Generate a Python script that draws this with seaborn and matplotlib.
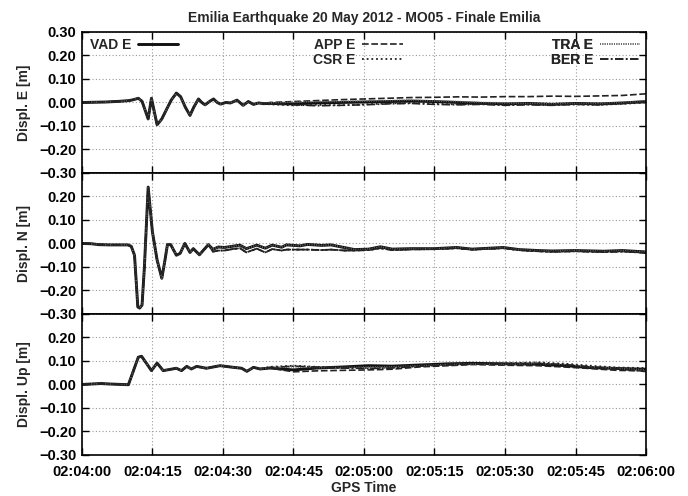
import matplotlib
matplotlib.use("Agg")
import matplotlib.pyplot as plt
import seaborn as sns

# seconds after 02:04:00
TIME_TICKS = [0, 15, 30, 45, 60, 75, 90, 105, 120]
TIME_LABELS = ["02:04:00", "02:04:15", "02:04:30", "02:04:45", "02:05:00",
               "02:05:15", "02:05:30", "02:05:45", "02:06:00"]
STATIONS = ["VAD", "APP", "CSR", "TRA", "BER"]

# --- East: shaking part (all stations on top of each other)
E_SHAKE_T = [0, 5, 8, 10, 11, 12.0, 12.8, 14.1, 14.8, 16.0, 17, 18, 19, 20.1, 21,
             22, 23.0, 23.8, 24.8, 25.5, 26.2, 27.2, 28.0, 28.8, 29.5, 30.6, 31.6,
             33.0, 34.3, 35.4, 36.5, 37.6, 38.6]
E_SHAKE = [0.0, 0.002, 0.005, 0.008, 0.012, 0.018, 0.005, -0.07, 0.018, -0.095, -0.07,
           -0.03, 0.01, 0.04, 0.025, -0.02, -0.055, -0.02, 0.015, 0.0, -0.01, 0.005,
           0.015, 0.0, -0.007, 0.0, -0.002, 0.01, -0.012, 0.004, -0.008, -0.002, -0.005]
E_TAIL_T = [40, 45, 50, 55, 60, 65, 70, 75, 80, 85, 90, 95, 100, 105, 110, 115, 120]
E_TAIL = {
    "VAD": [-0.004, -0.006, -0.002, 0.0, 0.002, 0.004, 0.006, 0.004, 0.0, -0.004,
            -0.006, -0.004, -0.008, -0.004, -0.006, -0.002, 0.004],
    "APP": [0.0, 0.004, 0.008, 0.012, 0.015, 0.018, 0.021, 0.022, 0.024, 0.023,
            0.025, 0.025, 0.027, 0.026, 0.028, 0.03, 0.037],
    "CSR": [-0.008, -0.012, -0.01, -0.012, -0.008, -0.004, -0.002, -0.006, -0.008,
            -0.006, -0.01, -0.008, -0.01, -0.008, -0.01, -0.006, 0.0],
    "TRA": [-0.002, 0.002, 0.004, 0.004, 0.006, 0.008, 0.01, 0.006, 0.004, 0.0,
            -0.002, -0.004, -0.006, -0.004, -0.004, 0.0, 0.006],
    "BER": [-0.006, -0.01, -0.014, -0.012, -0.01, -0.006, -0.004, -0.008, -0.01,
            -0.008, -0.012, -0.01, -0.012, -0.008, -0.01, -0.004, 0.002],
}

# --- North
N_SHAKE_T = [0, 2, 3.6, 6, 9.8, 10.5, 11.2, 11.9, 12.3, 12.8, 13.3, 14.1, 15.0, 16.0,
             17.0, 17.6, 18.2, 18.9, 20.1, 20.9, 21.9, 23.0, 23.7, 25.0, 26.9]
N_SHAKE = [0.0, -0.001, -0.005, -0.006, -0.006, -0.012, -0.05, -0.27, -0.275, -0.262,
           -0.1, 0.24, 0.05, -0.07, -0.148, -0.08, -0.005, -0.005, -0.05, -0.042, 0.0,
           -0.038, -0.022, -0.048, -0.005]
N_TAIL_T = [27.9, 29, 30.3, 32, 33.6, 35, 37.2, 39, 40.5, 42.5, 43.5, 46.4, 48, 51, 53,
            56, 58, 61, 63.5, 66, 70, 75, 79.7, 83, 89.6, 93, 97, 100, 105, 111, 115, 120]
N_HI = [-0.025, -0.015, -0.017, -0.012, -0.007, -0.022, -0.007, -0.02, -0.007, -0.016,
        -0.006, -0.01, -0.004, -0.008, -0.006, -0.018, -0.026, -0.024, -0.014, -0.024,
        -0.022, -0.022, -0.017, -0.024, -0.017, -0.026, -0.03, -0.032, -0.03, -0.033,
        -0.03, -0.036]
N_LO = [-0.035, -0.03, -0.03, -0.024, -0.02, -0.038, -0.022, -0.038, -0.024, -0.03,
        -0.026, -0.026, -0.026, -0.028, -0.026, -0.03, -0.03, -0.028, -0.02, -0.028,
        -0.025, -0.024, -0.02, -0.026, -0.02, -0.028, -0.033, -0.035, -0.033, -0.036,
        -0.034, -0.04]
N_GROUP = {"VAD": N_HI, "APP": N_LO, "CSR": N_LO, "TRA": N_HI, "BER": N_LO}

# --- Up
U_SHAKE_T = [0, 4, 6, 9.9, 12.0, 12.7, 14.8, 16.0, 17.3, 20.1, 21.2, 22.3, 23.3, 24.4,
             26.5, 29.4, 32.2, 34.0, 35.1, 36.5, 37.9]
U_SHAKE = [0.0, 0.004, 0.002, -0.001, 0.116, 0.12, 0.059, 0.091, 0.059, 0.069, 0.059,
           0.077, 0.066, 0.077, 0.069, 0.08, 0.073, 0.069, 0.056, 0.073, 0.066]
U_TAIL_T = [40, 45, 50, 55, 61, 66, 72, 78, 83, 90, 97, 103, 108, 114, 120]
U_TAIL = {
    "VAD": [0.07, 0.062, 0.07, 0.074, 0.08, 0.078, 0.083, 0.088, 0.09, 0.088, 0.086,
            0.08, 0.072, 0.068, 0.065],
    "APP": [0.07, 0.054, 0.058, 0.06, 0.062, 0.065, 0.075, 0.08, 0.085, 0.082, 0.08,
            0.074, 0.068, 0.06, 0.058],
    "CSR": [0.075, 0.08, 0.075, 0.072, 0.07, 0.072, 0.08, 0.086, 0.088, 0.09, 0.094,
            0.088, 0.08, 0.072, 0.07],
    "TRA": [0.072, 0.075, 0.072, 0.072, 0.074, 0.075, 0.08, 0.085, 0.087, 0.085, 0.09,
            0.085, 0.076, 0.068, 0.062],
    "BER": [0.072, 0.078, 0.074, 0.07, 0.068, 0.07, 0.078, 0.083, 0.086, 0.087, 0.09,
            0.084, 0.075, 0.066, 0.055],
}

STYLE = {
    "VAD": dict(color="#111111", linestyle="-", linewidth=2.1),
    "APP": dict(color="#222222", linestyle=(0, (4, 1.6)), linewidth=1.2),
    "CSR": dict(color="#222222", linestyle=(0, (1, 1.6)), linewidth=1.3),
    "TRA": dict(color="#666666", linestyle=(0, (0.6, 0.8)), linewidth=1.2),
    "BER": dict(color="#222222", linestyle=(0, (5, 1.5, 1, 1.5)), linewidth=1.2),
}

sns.set_style("ticks")
plt.rcParams["font.family"] = ["Liberation Sans", "DejaVu Sans"]
plt.rcParams["font.weight"] = "bold"

fig, axes = plt.subplots(3, 1, sharex=True, figsize=(6.88, 4.96), dpi=100)
fig.subplots_adjust(left=0.119, right=0.939, top=0.9355, bottom=0.0827, hspace=0)

for st in STATIONS:
    sns.lineplot(x=E_SHAKE_T + E_TAIL_T, y=E_SHAKE + E_TAIL[st], ax=axes[0],
                 label=st + " E", legend=False, **STYLE[st])
    sns.lineplot(x=N_SHAKE_T + N_TAIL_T, y=N_SHAKE + N_GROUP[st], ax=axes[1],
                 legend=False, **STYLE[st])
    sns.lineplot(x=U_SHAKE_T + U_TAIL_T, y=U_SHAKE + U_TAIL[st], ax=axes[2],
                 legend=False, **STYLE[st])

yvals = [-0.3, -0.2, -0.1, 0.0, 0.1, 0.2, 0.3]


def fmt(v):
    s = f"{v:.2f}"
    if s == "-0.00":
        s = "0.00"
    return s.replace("-", "\u2212")


ylabels = ["Displ. E [m]", "Displ. N [m]", "Displ. Up [m]"]
for i, ax in enumerate(axes):
    ax.set_xlim(0, 120)
    ax.set_ylim(-0.3, 0.3)
    labs = [fmt(v) for v in yvals]
    if i > 0:
        labs[-1] = ""
    ax.set_yticks(yvals, labs)
    ax.set_xticks(TIME_TICKS)
    ax.grid(True, color="#9a9a9a", linestyle=(0, (1, 2)), linewidth=0.8)
    ax.tick_params(direction="in", length=5, width=1, top=True, right=True,
                   labelsize=10.5, colors="black")
    ax.tick_params(axis="y", pad=4)
    for lab in ax.get_yticklabels():
        lab.set_fontweight("bold")
    for sp in ax.spines.values():
        sp.set_linewidth(1.2)
        sp.set_color("black")
    ax.set_ylabel(ylabels[i], fontsize=10, fontweight="bold", labelpad=6)
    ax.set_xlabel("")

axes[2].set_xticks(TIME_TICKS, TIME_LABELS)
axes[2].tick_params(axis="x", pad=7)
for lab in axes[2].get_xticklabels():
    lab.set_fontweight("bold")
axes[2].set_xlabel("GPS Time", fontsize=10, fontweight="bold", labelpad=2)
axes[0].set_title("Emilia Earthquake 20 May 2012 - MO05 - Finale Emilia",
                  fontsize=10, fontweight="bold", pad=7)

lines = {ln.get_label(): ln for ln in axes[0].get_lines()}
leg_kw = dict(frameon=False, markerfirst=False, handlelength=2.9,
              handletextpad=0.5, labelspacing=0.05, borderpad=0.0, borderaxespad=0.0,
              prop={"weight": "bold", "size": 10})
groups = [(["VAD E"], "upper left", (0.014, 0.955)),
          (["APP E", "CSR E"], "upper left", (0.41, 0.955)),
          (["TRA E", "BER E"], "upper right", (0.99, 0.955))]
for names, loc, anchor in groups:
    leg = axes[0].legend([lines[n] for n in names], names, loc=loc,
                         bbox_to_anchor=anchor, **leg_kw)
    axes[0].add_artist(leg)

fig.savefig("out.png", dpi=100)
